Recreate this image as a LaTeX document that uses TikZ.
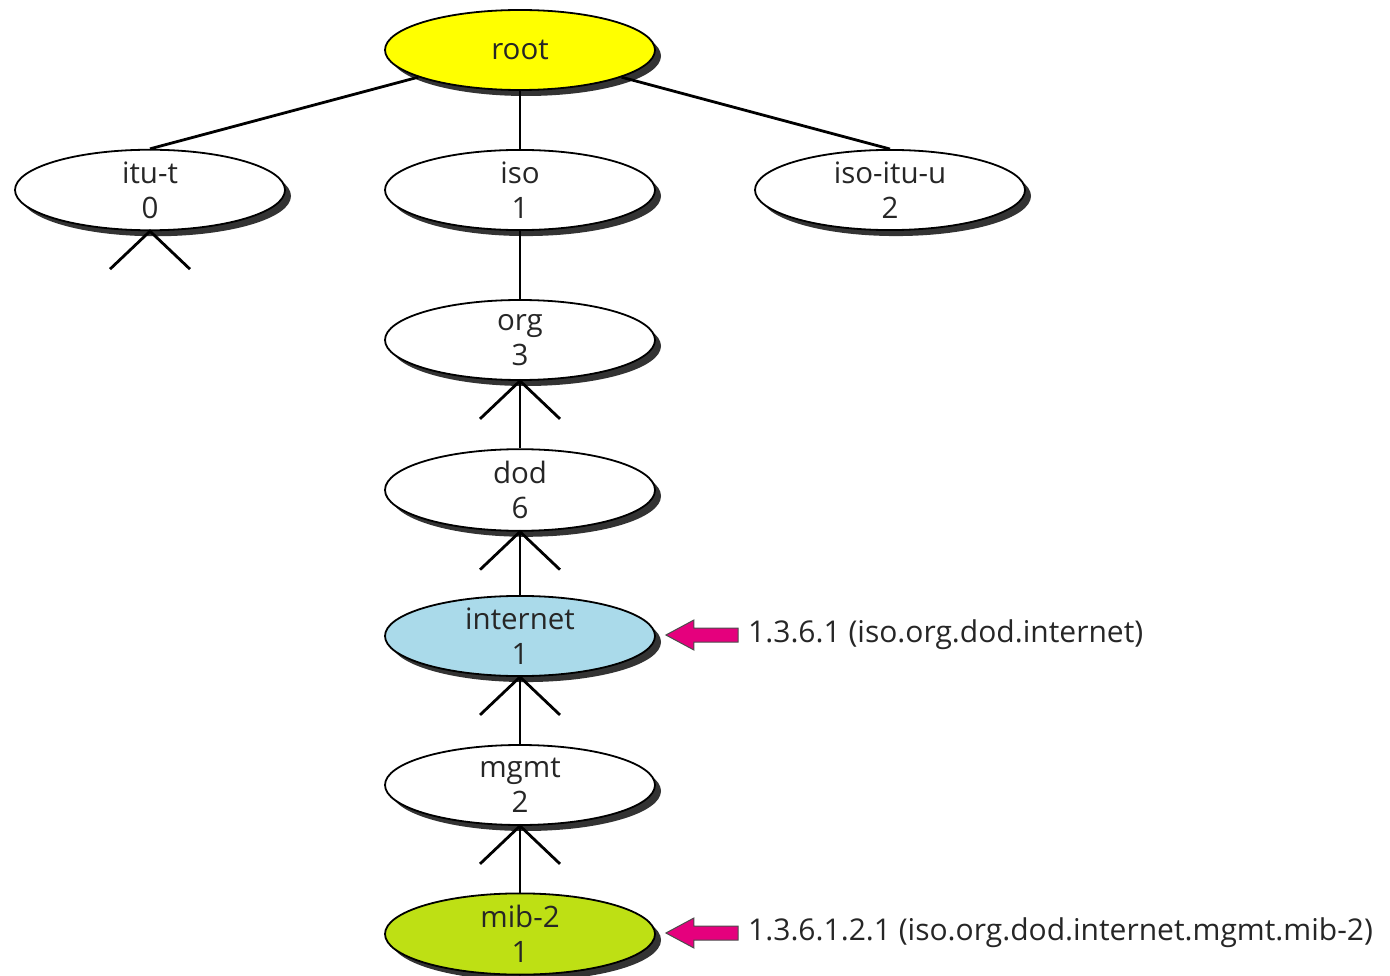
\documentclass[tikz,border=0pt]{standalone}
\usepackage{fontspec}
\setmainfont{Open Sans}
\usetikzlibrary{shapes.geometric,shadows,calc}
\definecolor{rootyellow}{RGB}{255,255,0}
\definecolor{inetblue}{RGB}{170,218,234}
\definecolor{mibgreen}{RGB}{190,224,20}
\definecolor{tagpink}{RGB}{229,0,125}
\begin{document}
\begin{tikzpicture}[x=1pt,y=-1pt,
  oid/.style={ellipse, draw=black, line width=1.8pt, fill=white,
    minimum width=270pt, minimum height=80pt, inner sep=0pt,
    align=center, text=black!85,
    font=\fontsize{29.5}{35}\selectfont,
    drop shadow={shadow xshift=6pt, shadow yshift=-6pt, opacity=1, fill=black!80}},
  link/.style={line width=2.8pt, black},
  foot/.style={line width=2.8pt, black},
  tag/.style={anchor=west, inner sep=0pt, text=black!85,
    font=\fontsize{30}{34}\selectfont},
  pinkarrow/.style={fill=tagpink, draw=black!70, line width=1pt, line join=miter}]
\useasboundingbox (0,0) rectangle (1390,976);

% tree nodes
\node[oid, fill=rootyellow] (root) at (520,50) {root};
\node[oid] (itut) at (150,190) {itu-t\\0};
\node[oid] (iso) at (520,190) {iso\\1};
\node[oid] (isoituu) at (890,190) {iso-itu-u\\2};
\node[oid] (org) at (520,340) {org\\3};
\node[oid] (dod) at (520,490) {dod\\6};
\node[oid, fill=inetblue] (internet) at (520,636) {internet\\1};
\node[oid] (mgmt) at (520,785) {mgmt\\2};
\node[oid, fill=mibgreen] (mib) at (520,934) {mib-2\\1};

% tree edges
\draw[link] (root) -- (itut.north);
\draw[link] (root) -- (iso.north);
\draw[link] (root) -- (isoituu.north);
\draw[link] (iso.south) -- (org.north);
\draw[link] (org.south) -- (dod.north);
\draw[link] (dod.south) -- (internet.north);
\draw[link] (internet.south) -- (mgmt.north);
\draw[link] (mgmt.south) -- (mib.north);

% open branches below nodes
\foreach \n in {itut,org,dod,internet,mgmt}{
  \draw[foot] ($(\n.south)+(-40,38)$) -- (\n.south) -- ($(\n.south)+(40,38)$);
}

% object identifier tags
\node[tag] (inettag) at (748,635) {1.3.6.1 (iso.org.dod.internet)};
\node[tag] (mibtag) at (748,933) {1.3.6.1.2.1 (iso.org.dod.internet.mgmt.mib-2)};

\coordinate (inettip) at ($(internet.east)+(10,-1)$);
\coordinate (mibtip) at ($(mib.east)+(10,-1)$);
\foreach \t/\l in {inettip/inettag, mibtip/mibtag}{
  \draw[pinkarrow] (\t) -- ++(28,-15) -- ++(0,8) -- ($(\l.west)+(-10,-7)$)
    -- ($(\l.west)+(-10,7)$) -- ($(\t)+(28,7)$) -- ++(0,8) -- cycle;
}
\end{tikzpicture}
\end{document}
